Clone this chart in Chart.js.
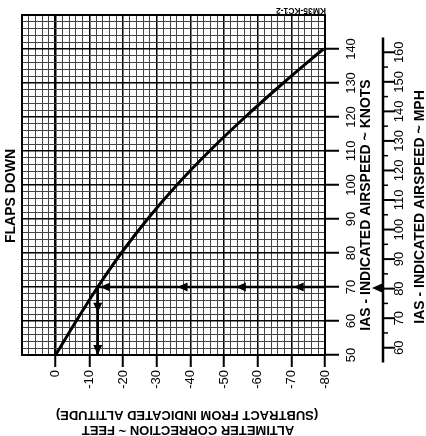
<!DOCTYPE html>
<html>
<head>
<meta charset="utf-8">
<script src="https://cdn.jsdelivr.net/npm/chart.js@4.4.1/dist/chart.umd.min.js"></script>
<style>
html, body { margin: 0; padding: 0; background: #fff; }
</style>
</head>
<body>
<canvas id="myChart" width="426" height="436"></canvas>
<script>
// curve: IAS (knots) vs altimeter correction (feet), flaps down
const knots = [50, 60, 70, 80, 90, 100, 110, 120, 130, 140];
const correction = [0, -6.1, -12.5, -19.5, -27.3, -36.0, -45.7, -56.3, -67.6, -79.5];

const knotTicks = [50, 60, 70, 80, 90, 100, 110, 120, 130, 140];
const mphTicks = [60, 70, 80, 90, 100, 110, 120, 130, 140, 150, 160];
const mphMinorTicks = [65, 75, 85, 95, 105, 115, 125, 135, 145, 155];
const mphAxisRange = [55, 165];
const KNOTS_TO_MPH = 1.15078;

// worked example: 70 knots -> about -12 ft
const exampleKnots = 70;
const exampleCorrection = -12.5;
const leftArrows = [-13.2, -36.2, -53.5, -70.7];
const downArrows = [62.4, 50];

Chart.defaults.font.family = "'Liberation Sans', Arial, sans-serif";
Chart.defaults.color = '#000';

const ctx = document.getElementById('myChart').getContext('2d');

function vText(c, text, x, y, font) {
    c.save();
    c.translate(x, y);
    c.rotate(-Math.PI / 2);
    c.font = font;
    c.textAlign = 'center';
    c.textBaseline = 'middle';
    c.fillText(text, 0, 0);
    c.restore();
}

function flipText(c, text, x, y, font) {
    c.save();
    c.translate(x, y);
    c.rotate(Math.PI);
    c.font = font;
    c.textAlign = 'center';
    c.textBaseline = 'middle';
    c.fillText(text, 0, 0);
    c.restore();
}

function arrowHead(c, x, y, dir) {
    // tip at x,y
    const len = 10, half = 4.5;
    c.beginPath();
    c.moveTo(x, y);
    if (dir === 'left') {
        c.lineTo(x + len, y - half);
        c.lineTo(x + len, y + half);
    } else {
        c.lineTo(x - half, y - len);
        c.lineTo(x + half, y - len);
    }
    c.closePath();
    c.fill();
}

const extras = {
    id: 'extras',
    afterDraw(chart) {
        const c = chart.ctx;
        const xs = chart.scales.x;
        const ys = chart.scales.y;
        const area = chart.chartArea;
        c.save();
        c.fillStyle = '#000';
        c.strokeStyle = '#000';

        // frame
        c.lineWidth = 2;
        c.strokeRect(area.left, area.top, area.right - area.left, area.bottom - area.top);

        // arrows of the example
        const ey = ys.getPixelForValue(exampleKnots);
        const ex = xs.getPixelForValue(exampleCorrection);
        leftArrows.forEach(v => arrowHead(c, xs.getPixelForValue(v), ey, 'left'));
        downArrows.forEach(v => arrowHead(c, ex, ys.getPixelForValue(v), 'down'));

        // knots tick labels
        knotTicks.forEach(v => {
            vText(c, String(v), 351, ys.getPixelForValue(v), '13px "Liberation Sans", Arial');
        });
        vText(c, 'IAS - INDICATED AIRSPEED ~ KNOTS', 366, 205, 'bold 14px "Liberation Sans", Arial');

        // MPH scale
        const mx = 383;
        c.lineWidth = 2.5;
        c.beginPath();
        c.moveTo(mx, ys.getPixelForValue(mphAxisRange[0] / KNOTS_TO_MPH));
        c.lineTo(mx, ys.getPixelForValue(mphAxisRange[1] / KNOTS_TO_MPH));
        c.stroke();
        c.lineWidth = 2;
        mphTicks.forEach(v => {
            const py = ys.getPixelForValue(v / KNOTS_TO_MPH);
            c.beginPath();
            c.moveTo(mx, py);
            c.lineTo(mx + 12, py);
            c.stroke();
            vText(c, String(v), 399, py, '13px "Liberation Sans", Arial');
        });
        c.lineWidth = 1.5;
        mphMinorTicks.forEach(v => {
            const py = ys.getPixelForValue(v / KNOTS_TO_MPH);
            c.beginPath();
            c.moveTo(mx, py);
            c.lineTo(mx + 5, py);
            c.stroke();
        });
        vText(c, 'IAS - INDICATED AIRSPEED ~ MPH', 420, 207, 'bold 14px "Liberation Sans", Arial');

        // little arrow from the mph scale
        c.lineWidth = 2;
        c.beginPath();
        c.moveTo(mx, ey + 1);
        c.lineTo(376, ey + 1);
        c.stroke();
        arrowHead(c, 372, ey + 1, 'left');

        // other texts
        vText(c, 'FLAPS DOWN', 11, 196, 'bold 14px "Liberation Sans", Arial');
        flipText(c, 'ALTIMETER CORRECTION ~ FEET', 188, 430, 'bold 13px "Liberation Sans", Arial');
        flipText(c, '(SUBTRACT FROM INDICATED ALTITUDE)', 187, 415, 'bold 13px "Liberation Sans", Arial');
        flipText(c, 'KM35-KC1-2', 301, 10, 'bold 8.5px "Liberation Sans", Arial');
        c.restore();
    }
};

const chart = new Chart(ctx, {
    type: 'scatter',
    data: {
        datasets: [{
            label: 'flaps down',
            data: knots.map((k, i) => ({ x: correction[i], y: k })),
            showLine: true,
            borderColor: '#000',
            borderWidth: 3,
            pointRadius: 0,
            tension: 0.3
        }, {
            label: 'example across',
            data: [{ x: exampleCorrection, y: exampleKnots }, { x: -80, y: exampleKnots }],
            showLine: true,
            borderColor: '#000',
            borderWidth: 2.5,
            pointRadius: 0
        }, {
            label: 'example down',
            data: [{ x: exampleCorrection, y: exampleKnots }, { x: exampleCorrection, y: 50 }],
            showLine: true,
            borderColor: '#000',
            borderWidth: 2.5,
            pointRadius: 0
        }]
    },
    options: {
        responsive: false,
        animation: false,
        events: [],
        layout: { padding: { left: 22, top: 15, right: 0, bottom: 0 } },
        plugins: {
            legend: { display: false },
            tooltip: { enabled: false }
        },
        scales: {
            x: {
                type: 'linear',
                min: -80,
                max: 10,
                reverse: true,
                afterFit: (scale) => { scale.height = 81; },
                border: { color: '#000', width: 2 },
                grid: {
                    color: (c) => (c.tick && c.tick.value % 10 === 0) ? '#000' : '#444',
                    lineWidth: (c) => {
                        if (!c.tick) return 1;
                        if (c.tick.value === 0) return 2.5;
                        return c.tick.value % 10 === 0 ? 1.5 : 1;
                    },
                    tickLength: 12,
                    tickWidth: 2,
                    tickColor: (c) => (c.tick && c.tick.value % 10 === 0 && c.tick.value <= 0) ? '#000' : 'rgba(0,0,0,0)'
                },
                ticks: {
                    stepSize: 2,
                    autoSkip: false,
                    minRotation: 90,
                    maxRotation: 90,
                    padding: 3,
                    font: { size: 13 },
                    color: '#000',
                    callback: (v) => (v % 10 === 0 && v <= 0) ? String(v) : ''
                }
            },
            y: {
                type: 'linear',
                position: 'right',
                min: 50,
                max: 150,
                afterFit: (scale) => { scale.width = 101; },
                border: { color: '#000', width: 2 },
                grid: {
                    color: (c) => (c.tick && c.tick.value % 10 === 0) ? '#000' : '#444',
                    lineWidth: (c) => (c.tick && c.tick.value % 10 === 0) ? 1.5 : 1,
                    tickLength: 14,
                    tickWidth: 2,
                    tickColor: (c) => (c.tick && c.tick.value % 10 === 0 && c.tick.value <= 140) ? '#000' : 'rgba(0,0,0,0)'
                },
                ticks: {
                    stepSize: 2,
                    autoSkip: false,
                    display: false
                }
            }
        }
    },
    plugins: [extras]
});
</script>
</body>
</html>
